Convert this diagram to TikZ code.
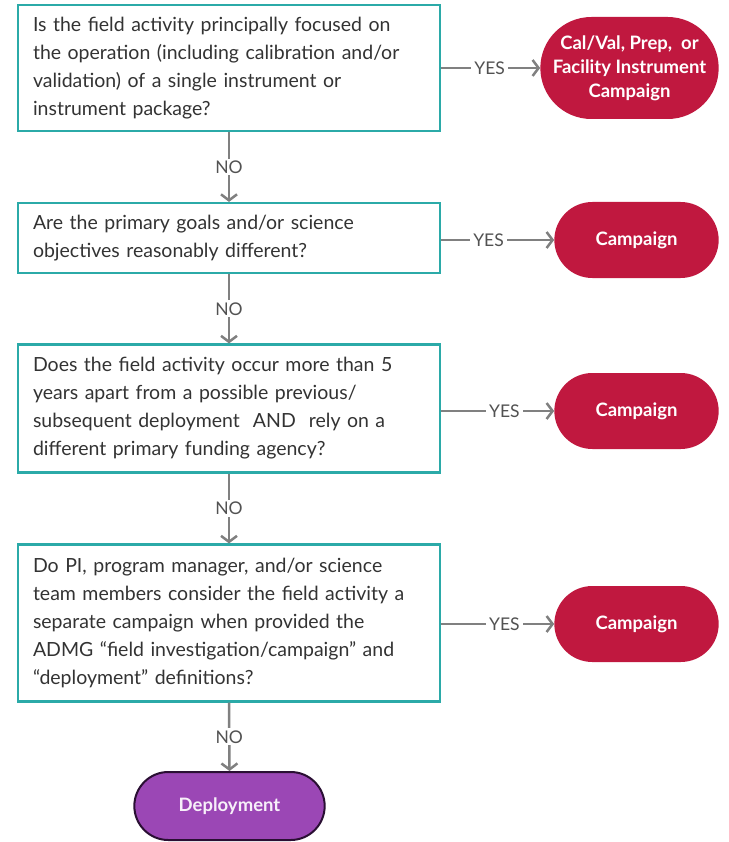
\documentclass[tikz,border=0pt]{standalone}
\usepackage{fontspec}
\setmainfont{Lato}
\usetikzlibrary{arrows.meta,shapes.misc}
\definecolor{teal}{HTML}{2BAAA8}
\definecolor{crim}{HTML}{C0183F}
\definecolor{purp}{HTML}{9B47B5}
\definecolor{purpdark}{HTML}{2A0F33}
\definecolor{conn}{HTML}{808080}
\definecolor{txt}{HTML}{333333}
\tikzset{
  qbox/.style={draw=teal, line width=2.2pt, fill=white, rectangle, minimum width=422pt,
    text width=392pt, align=left, inner xsep=15pt, text=txt,
    font=\fontsize{19.5pt}{28pt}\selectfont},
  pill/.style={rounded rectangle, fill=crim, text=white, align=center,
    font=\fontsize{18.5pt}{26pt}\selectfont\bfseries},
  depl/.style={rounded rectangle, fill=purp, draw=purpdark, line width=2pt, text=white!92!purp,
    font=\fontsize{18.5pt}{26pt}\selectfont\bfseries},
  conn/.style={draw=conn, line width=2.5pt, -{Straight Barb[length=6pt,width=16pt,line width=2.5pt]}},
  lbl/.style={fill=white, text=txt!85!white, inner xsep=3pt, inner ysep=2pt,
    font=\fontsize{17.5pt}{19pt}\selectfont}
}
\begin{document}
\begin{tikzpicture}[x=1pt,y=-1pt]
\useasboundingbox (0,0) rectangle (728,842);
% question boxes
\node[qbox, minimum height=126pt] (q1) at (229,68)
  {Is the field activity principally focused on\\the operation (including calibration and/or\\validation) of a single instrument or\\instrument package?};
\node[qbox, minimum height=70pt] (q2) at (229,238)
  {Are the primary goals and/or science\\objectives reasonably different?};
\node[qbox, minimum height=128pt] (q3) at (229,408.5)
  {Does the field activity occur more than 5\\years apart from a possible previous/\\subsequent deployment\ \ AND\ \ rely on a\\different primary funding agency?};
\node[qbox, minimum height=157pt] (q4) at (229,623)
  {Do PI, program manager, and/or science\\team members consider the field activity a\\separate campaign when provided the\\ADMG “field investigation/campaign” and\\“deployment” definitions?};
% outcome pills
\node[pill, minimum width=185pt, minimum height=102pt] (c1) at (629.5,68)
  {Cal/Val, Prep,\ \ or\\[-2pt]Facility Instrument\\[-2pt]Campaign};
\node[pill, minimum width=171pt, minimum height=76pt] (c2) at (636.5,240) {Campaign};
\node[pill, minimum width=171pt, minimum height=76pt] (c3) at (636.5,411) {Campaign};
\node[pill, minimum width=171pt, minimum height=76pt] (c4) at (636.5,624) {Campaign};
\node[depl, minimum width=197pt, minimum height=68pt] (d) at (229.5,806) {Deployment};
% YES connectors
\draw[conn] (q1.east |- c1.west) -- node[lbl, pos=0.49] {YES} (c1.west);
\draw[conn] (q2.east |- c2.west) -- node[lbl, pos=0.42] {YES} (c2.west);
\draw[conn] (q3.east |- c3.west) -- node[lbl, pos=0.56] {YES} (c3.west);
\draw[conn] (q4.east |- c4.west) -- node[lbl, pos=0.56] {YES} (c4.west);
% NO connectors
\draw[conn] (q1.south) -- node[lbl] {NO} (q2.north);
\draw[conn] (q2.south) -- node[lbl] {NO} (q3.north);
\draw[conn] (q3.south) -- node[lbl] {NO} (q4.north);
\draw[conn] (q4.south) -- node[lbl] {NO} (d.north);
\end{tikzpicture}
\end{document}
